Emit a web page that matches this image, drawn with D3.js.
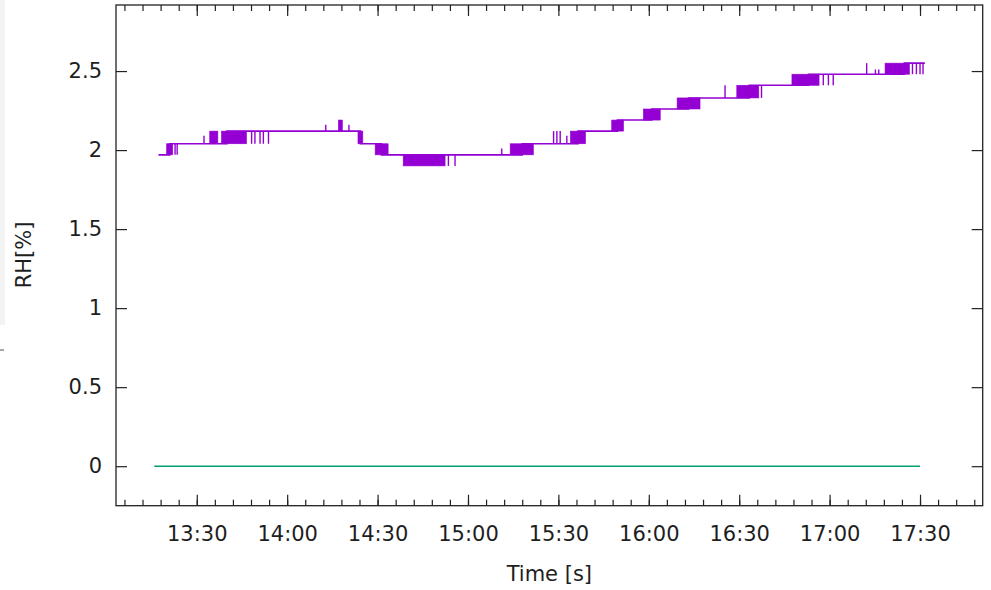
<!DOCTYPE html>
<html><head><meta charset="utf-8">
<script src="https://cdn.jsdelivr.net/npm/d3@7"></script>
<style>
html,body{margin:0;padding:0;background:#fff;}
svg{display:block;}
text{font-family:"DejaVu Sans",sans-serif;fill:#1e1e1e;}
</style></head>
<body>
<svg id="c" width="991" height="590"></svg>
<script>
// ---- data (time in minutes after 13:00, RH in %) ----
const xDomainMin = [3.2, 290.8];
const yDomain = [-0.25, 2.918];
const yTicks = [0, 0.5, 1, 1.5, 2, 2.5];
const xMajorTickMin = [30, 60, 90, 120, 150, 180, 210, 240, 270];

// main staircase of the RH sensor line
const rhSteps = [
  [17.3,1.97],[21.0,2.04],[40.0,2.12],[84.3,2.04],[91.3,1.97],[138.0,2.04],
  [156.5,2.12],[169.6,2.19],[181.0,2.26],[193.2,2.33],[213.3,2.41],
  [233.0,2.48],[264.8,2.55],[271.6,2.55]
];
// dense toggling regions: [tStart, tEnd, low, high]
const rhBands = [
  [20.0,22.0,1.97,2.04],[34.3,37.0,2.04,2.12],[38.2,46.5,2.04,2.12],
  [77.0,78.3,2.12,2.19],[83.5,85.1,2.04,2.12],[89.2,93.5,1.97,2.04],
  [98.5,112.4,1.90,1.97],[134.0,141.7,1.97,2.04],[154.0,159.0,2.04,2.12],
  [167.7,171.6,2.12,2.19],[178.2,183.8,2.19,2.26],[189.4,197.0,2.26,2.33],
  [209.2,216.5,2.33,2.41],[227.5,236.5,2.41,2.48],[258.4,266.5,2.48,2.55]
];
// isolated toggles: [t, low, high]
const rhSpikes = [
  [22.8,1.97,2.04],[23.5,1.97,2.04],[32.4,2.04,2.09],
  [48.2,2.04,2.12],[49.3,2.04,2.12],[51.0,2.04,2.12],[52.1,2.04,2.12],[53.8,2.04,2.12],
  [72.8,2.12,2.16],[80.5,2.12,2.16],
  [113.5,1.90,1.97],[115.7,1.90,1.97],[131.2,1.97,2.01],
  [148.4,2.04,2.12],[149.5,2.04,2.12],[150.6,2.04,2.12],[152.8,2.04,2.09],
  [205.3,2.33,2.41],[217.4,2.33,2.41],
  [237.9,2.41,2.48],[239.6,2.41,2.48],[241.2,2.41,2.48],
  [252.3,2.48,2.55],[255.2,2.48,2.51],[256.3,2.48,2.51],
  [267.5,2.48,2.55],[268.8,2.48,2.55],[270.0,2.48,2.55],[271.0,2.48,2.55]
];
// second series (flat at zero)
const zeroSeries = [[15.9,0],[270.0,0]];

// ---- setup ----
const T0 = new Date(2024,0,1,13,0,0).getTime();
const tm = m => new Date(T0 + m*60000);
const svg = d3.select("#c");
const L=116, R=982.7, T=5, B=505.7;
const FS = 21;

const x = d3.scaleTime().domain(xDomainMin.map(tm)).range([L,R]);
const y = d3.scaleLinear().domain(yDomain).range([B,T]);

// screenshot edge artefacts
svg.append("rect").attr("x",0).attr("y",0).attr("width",5).attr("height",325).attr("fill","#f3f3f3");
svg.append("line").attr("x1",0).attr("x2",4).attr("y1",350).attr("y2",350).attr("stroke","#555").attr("stroke-width",1);

const fmt = d3.timeFormat("%H:%M");
const majors = xMajorTickMin.map(tm);
const minors = d3.timeMinute.every(6).range(x.domain()[0], x.domain()[1]);

function styleAxis(g){ g.select(".domain").remove(); g.selectAll("line").attr("stroke","#222").attr("stroke-width",1.2);
  g.selectAll("text").attr("font-family","DejaVu Sans").attr("font-size",FS).attr("fill","#1e1e1e"); }

svg.append("g").attr("transform",`translate(0,${B})`)
  .call(d3.axisBottom(x).tickValues(minors).tickSize(-6).tickFormat("")).call(styleAxis);
svg.append("g").attr("transform",`translate(0,${B})`)
  .call(d3.axisBottom(x).tickValues(majors).tickSize(-11).tickPadding(20.5).tickFormat(fmt)).call(styleAxis);
svg.append("g").attr("transform",`translate(0,${T})`)
  .call(d3.axisTop(x).tickValues(minors).tickSize(-6).tickFormat("")).call(styleAxis);
svg.append("g").attr("transform",`translate(0,${T})`)
  .call(d3.axisTop(x).tickValues(majors).tickSize(-11).tickFormat("")).call(styleAxis);
svg.append("g").attr("transform",`translate(${L},0)`)
  .call(d3.axisLeft(y).tickValues(yTicks).tickSize(-11).tickPadding(14).tickFormat(d=>String(d))).call(styleAxis);
svg.append("g").attr("transform",`translate(${R},0)`)
  .call(d3.axisRight(y).tickValues(yTicks).tickSize(-11).tickFormat("")).call(styleAxis);

// frame
svg.append("rect").attr("x",L).attr("y",T).attr("width",R-L).attr("height",B-T)
  .attr("fill","none").attr("stroke","#222").attr("stroke-width",1.3);

// labels
svg.append("text").attr("x",(L+R)/2).attr("y",581).attr("text-anchor","middle").attr("font-size",FS).text("Time [s]");
svg.append("text").attr("transform","translate(31,255) rotate(-90)").attr("text-anchor","middle").attr("font-size",FS).text("RH[%]");

const purple = "#9400d3", green = "#009e73";

// green series
svg.append("path").datum(zeroSeries)
  .attr("d", d3.line().x(d=>x(tm(d[0]))).y(d=>y(d[1])))
  .attr("fill","none").attr("stroke",green).attr("stroke-width",1.6);

// purple series
svg.append("path").datum(rhSteps)
  .attr("d", d3.line().curve(d3.curveStepAfter).x(d=>x(tm(d[0]))).y(d=>y(d[1])))
  .attr("fill","none").attr("stroke",purple).attr("stroke-width",1.6);
svg.append("g").selectAll("rect").data(rhBands).join("rect")
  .attr("x",d=>x(tm(d[0]))).attr("width",d=>x(tm(d[1]))-x(tm(d[0])))
  .attr("y",d=>y(d[3])).attr("height",d=>y(d[2])-y(d[3]))
  .attr("fill",purple).attr("stroke",purple).attr("stroke-width",0.6);
svg.append("g").selectAll("line").data(rhSpikes).join("line")
  .attr("x1",d=>x(tm(d[0]))).attr("x2",d=>x(tm(d[0])))
  .attr("y1",d=>y(d[1])).attr("y2",d=>y(d[2]))
  .attr("stroke",purple).attr("stroke-width",1.4);
</script>
</body></html>
